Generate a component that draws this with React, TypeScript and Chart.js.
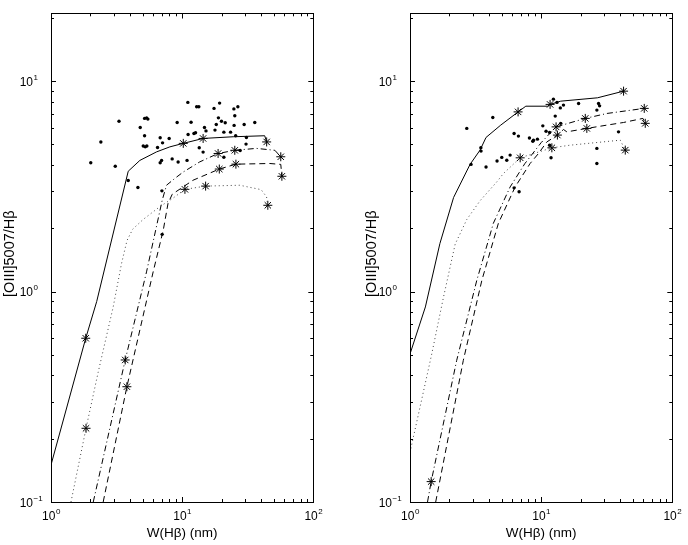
import { useEffect, useRef } from 'react'
import { Chart, registerables } from 'chart.js'

Chart.register(...registerables)

type Pt = [number, number]

// ---- left panel ----
const leftDots: Pt[] = [
  [2.01, 4.09], [2.4, 5.14], [3.3, 6.45], [3.09, 3.94], [3.88, 3.37], [4.6, 3.12],
  [4.79, 6.02], [5.17, 6.65], [5.36, 6.69], [5.48, 6.6], [5.17, 5.5], [5.05, 4.92],
  [5.23, 4.87], [5.38, 4.92], [6.49, 4.84], [6.8, 5.38], [7.09, 5.09], [7.96, 5.34],
  [6.97, 4.2], [6.8, 4.09], [8.39, 4.27], [9.32, 4.13], [10.9, 4.2], [7.01, 3.01],
  [7.04, 1.87], [9.16, 6.36], [11.05, 7.92], [11.7, 6.38], [11.1, 5.58], [12.3, 5.64],
  [12.65, 5.68], [12.9, 7.55], [13.4, 7.55], [13.5, 4.82], [14.45, 4.6], [14.8, 6.02],
  [15.2, 5.8], [17.5, 7.42], [19.3, 7.86], [18.9, 6.69], [19.95, 6.45], [21.3, 6.34],
  [18.2, 6.22], [17.8, 5.85], [20.8, 5.72], [23.4, 5.72], [24.8, 7.38], [26.6, 7.55],
  [25.2, 6.84], [24.9, 6.16], [25.6, 5.5], [29.7, 6.22], [30.9, 5.4], [30.7, 5.02],
  [35.8, 6.36], [20.8, 4.35], [27.7, 4.68],
]
const leftSolid: Pt[] = [
  [1.0, 0.15], [1.84, 0.6], [2.23, 0.896], [3.88, 3.73], [4.76, 4.2], [6.38, 4.61],
  [8.06, 4.87], [10.2, 5.06], [14.45, 5.34], [24.5, 5.44], [42.6, 5.5], [44.1, 5.14],
]
const leftDotted: Pt[] = [
  [1.42, 0.1], [1.85, 0.224], [2.29, 0.414], [2.98, 0.845], [3.45, 1.36], [3.8, 1.75],
  [4.2, 1.98], [5.04, 2.2], [6.75, 2.53], [8.53, 2.78], [10.5, 3.06], [15.1, 3.17],
  [27.5, 3.2], [40, 3.05], [44, 2.82], [45, 2.57],
]
const leftDashDot: Pt[] = [
  [2.1, 0.1], [3.68, 0.473], [5.35, 1.24], [7.05, 2.72], [7.6, 3.2], [8.8, 3.45],
  [10.2, 3.7], [13.6, 4.13], [18.8, 4.53], [25.2, 4.69], [36.8, 4.79], [50.9, 4.69],
  [56.5, 4.37],
]
const leftDashed: Pt[] = [
  [2.5, 0.1], [3.79, 0.353], [6.01, 1.24], [7.18, 1.96], [7.8, 2.62], [8.4, 2.9],
  [12.1, 3.38], [19.2, 3.82], [25.7, 4.03], [46.6, 4.06], [56.5, 4.02], [57.6, 3.53],
]
const leftStars: Pt[] = [
  [1.84, 0.6], [10.2, 5.06], [14.45, 5.34], [44.1, 5.14],
  [1.85, 0.224], [10.5, 3.06], [15.1, 3.17], [45, 2.57],
  [3.68, 0.473], [18.8, 4.53], [25.2, 4.69], [56.5, 4.37],
  [3.79, 0.353], [19.2, 3.82], [25.7, 4.03], [57.6, 3.53],
]

// ---- right panel ----
const rightDots: Pt[] = [
  [2.71, 5.96], [4.28, 6.72], [3.47, 4.82], [3.48, 4.65], [2.92, 4.02], [3.8, 3.91],
  [4.61, 4.17], [5.01, 4.34], [5.47, 4.21], [5.8, 4.45], [6.22, 5.64], [6.71, 5.48],
  [6.22, 3.11], [6.79, 2.98], [8.14, 5.37], [8.64, 5.18], [8.74, 5.24], [9.37, 5.3],
  [10.3, 6.13], [10.9, 5.78], [11.6, 5.7], [11.6, 4.96], [11.9, 4.32], [12.8, 6.82],
  [12.4, 8.21], [13.2, 7.92], [14.0, 7.46], [14.8, 7.69], [14.1, 6.3], [19.3, 7.83],
  [27.4, 7.83], [27.9, 7.63], [26.6, 7.28], [38.9, 5.74], [26.6, 4.79], [26.6, 4.06],
]
const rightSolid: Pt[] = [
  [1.0, 0.505], [1.31, 0.845], [1.69, 1.69], [2.15, 2.8], [2.87, 4.02], [3.42, 4.7],
  [3.8, 5.4], [4.92, 6.18], [6.67, 7.14], [7.64, 7.6], [11.2, 7.6], [11.7, 7.75],
  [14.1, 8.03], [26.9, 8.33], [42.5, 8.96],
]
const rightDotted: Pt[] = [
  [1.0, 0.172], [1.46, 0.5], [1.8, 0.94], [2.21, 1.68], [2.71, 2.2], [3.42, 2.7],
  [4.59, 3.32], [5.16, 3.64], [6.92, 4.32], [12.07, 4.82], [16.6, 4.96], [40.1, 5.24],
  [43.8, 4.7],
]
const rightDashDot: Pt[] = [
  [1.36, 0.1], [1.45, 0.125], [2.27, 0.471], [3.23, 1.13], [4.32, 2.11], [5.8, 3.14],
  [7.5, 4.05], [10.0, 5.1], [13.0, 6.06], [21.7, 6.65], [31.8, 7.02], [61.1, 7.42],
]
const rightDashed: Pt[] = [
  [1.57, 0.1], [2.55, 0.471], [3.53, 1.13], [4.72, 2.11], [6.33, 3.14], [8.24, 4.06],
  [9.54, 4.53], [11.05, 5.14], [13.3, 5.54], [14.8, 5.89], [15.7, 5.74], [22.3, 5.96],
  [31.8, 6.18], [42.5, 6.36], [59.7, 6.65], [62.2, 6.3],
]
const rightStars: Pt[] = [
  [6.67, 7.14], [11.7, 7.75], [42.5, 8.96],
  [6.92, 4.32], [12.07, 4.82], [43.8, 4.7],
  [1.45, 0.125], [13.0, 6.06], [21.7, 6.65], [61.1, 7.42],
  [13.3, 5.54], [22.3, 5.96], [62.2, 6.3],
]

const xTicks = [1, 10, 100]
const yTicks = [0.1, 1, 10]
const xMin = 1
const xMax = 100
const yMin = 0.1
const yMax = 21
const xTitle = 'W(Hβ) (nm)'
const yTitle = '[OIII]5007/Hβ'

const FONT = '"Liberation Sans", Arial, sans-serif'

const toXY = (pts: Pt[]) => pts.map(([x, y]) => ({ x, y }))

function drawPower(ctx: CanvasRenderingContext2D, v: number, x: number, y: number, mode: 'center' | 'right') {
  const exp = String(Math.round(Math.log10(v))).replace('-', '\u2212')
  ctx.font = `12px ${FONT}`
  const wb = ctx.measureText('10').width
  ctx.font = `8px ${FONT}`
  const we = ctx.measureText(exp).width
  const x0 = mode === 'center' ? x - (wb + we) / 2 : x - wb
  ctx.textAlign = 'left'
  ctx.textBaseline = 'alphabetic'
  ctx.font = `12px ${FONT}`
  ctx.fillText('10', x0, y)
  ctx.font = `8px ${FONT}`
  ctx.fillText(exp, x0 + wb + 0.5, y - 6)
}

// MATLAB style box with inward ticks and power-of-ten labels
const axesPlugin = {
  id: 'matlabAxes',
  afterDraw(chart: any, _args: any, opts: any) {
    const { ctx, chartArea: a, scales } = chart
    const xs = scales.x
    const ys = scales.y
    ctx.save()
    ctx.strokeStyle = '#000'
    ctx.fillStyle = '#000'
    ctx.lineWidth = 1
    ctx.beginPath()
    for (let d = 1; d < xMax; d *= 10) {
      for (let m = 1; m <= 10; m++) {
        const v = d * m
        if (v < xMin || v > xMax) continue
        const px = Math.round(xs.getPixelForValue(v)) + 0.5
        const len = m === 1 || m === 10 ? 5 : 3
        ctx.moveTo(px, a.top)
        ctx.lineTo(px, a.top + len)
        ctx.moveTo(px, a.bottom)
        ctx.lineTo(px, a.bottom - len)
      }
    }
    for (let d = 0.1; d < yMax; d *= 10) {
      for (let m = 1; m <= 9; m++) {
        const v = d * m
        if (v < yMin * 0.999 || v > yMax) continue
        const py = Math.round(ys.getPixelForValue(v)) + 0.5
        const len = m === 1 ? 5 : 3
        ctx.moveTo(a.left, py)
        ctx.lineTo(a.left + len, py)
        ctx.moveTo(a.right, py)
        ctx.lineTo(a.right - len, py)
      }
    }
    ctx.stroke()
    ctx.strokeRect(Math.round(a.left) + 0.5, Math.round(a.top) + 0.5, Math.round(a.right - a.left), Math.round(a.bottom - a.top))

    xTicks.forEach((v) => drawPower(ctx, v, xs.getPixelForValue(v), a.bottom + 18, 'center'))
    yTicks.forEach((v) => drawPower(ctx, v, a.left - 18, ys.getPixelForValue(v) + 4.5, 'right'))

    ctx.font = `13.5px ${FONT}`
    ctx.textAlign = 'center'
    ctx.textBaseline = 'alphabetic'
    ctx.fillText(xTitle, (a.left + a.right) / 2, a.bottom + 35)

    ctx.font = `14.5px ${FONT}`
    ctx.translate(a.left - opts.yTitleGap, (a.top + a.bottom) / 2 - 4)
    ctx.rotate(-Math.PI / 2)
    ctx.textBaseline = 'middle'
    ctx.fillText(yTitle, 0, 0)
    ctx.restore()
  },
}

interface PanelProps {
  dots: Pt[]
  solid: Pt[]
  dotted: Pt[]
  dashDot: Pt[]
  dashed: Pt[]
  stars: Pt[]
  padLeft: number
  padRight: number
  yTitleGap: number
}

function Panel({ dots, solid, dotted, dashDot, dashed, stars, padLeft, padRight, yTitleGap }: PanelProps) {
  const canvasRef = useRef<HTMLCanvasElement>(null)
  const chartRef = useRef<Chart | null>(null)

  useEffect(() => {
    if (!canvasRef.current) return
    if (chartRef.current) chartRef.current.destroy()
    const ctx = canvasRef.current.getContext('2d')
    if (!ctx) return

    const lineSet = (pts: Pt[], dash: number[], color = '#000') => ({
      data: toXY(pts),
      showLine: true,
      borderColor: color,
      borderWidth: 1,
      borderDash: dash,
      pointRadius: 0,
      fill: false,
    })

    chartRef.current = new Chart(ctx, {
      type: 'scatter',
      data: {
        datasets: [
          lineSet(solid, []),
          lineSet(dotted, [1, 3], '#444'),
          lineSet(dashDot, [6, 3, 1, 3]),
          lineSet(dashed, [6, 4]),
          {
            data: toXY(dots),
            pointRadius: 1.7,
            pointBackgroundColor: '#000',
            pointBorderWidth: 0,
            showLine: false,
          },
          {
            data: toXY(stars),
            pointStyle: 'star',
            pointRadius: 4.5,
            pointBorderColor: '#000',
            pointBorderWidth: 1,
            showLine: false,
          },
        ] as any,
      },
      options: {
        animation: false,
        responsive: true,
        maintainAspectRatio: false,
        events: [],
        layout: { padding: { left: padLeft, right: padRight, top: 13.3, bottom: 43 } },
        scales: {
          x: { type: 'logarithmic', min: xMin, max: xMax, display: false },
          y: { type: 'logarithmic', min: yMin, max: yMax, display: false },
        },
        plugins: {
          legend: { display: false },
          tooltip: { enabled: false },
          matlabAxes: { yTitleGap },
        } as any,
      },
      plugins: [axesPlugin],
    })

    return () => {
      if (chartRef.current) {
        chartRef.current.destroy()
        chartRef.current = null
      }
    }
  }, [])

  return (
    <div style={{ position: 'relative', width: 344, height: 545 }}>
      <canvas ref={canvasRef} />
    </div>
  )
}

export default function App() {
  return (
    <div style={{ position: 'absolute', left: 0, top: 0, width: 688, height: 545, display: 'flex', background: '#fff' }}>
      <Panel
        dots={leftDots} solid={leftSolid} dotted={leftDotted} dashDot={leftDashDot}
        dashed={leftDashed} stars={leftStars} padLeft={51} padRight={30.7} yTitleGap={41}
      />
      <Panel
        dots={rightDots} solid={rightSolid} dotted={rightDotted} dashDot={rightDashDot}
        dashed={rightDashed} stars={rightStars} padLeft={66} padRight={15.7} yTitleGap={38}
      />
    </div>
  )
}
